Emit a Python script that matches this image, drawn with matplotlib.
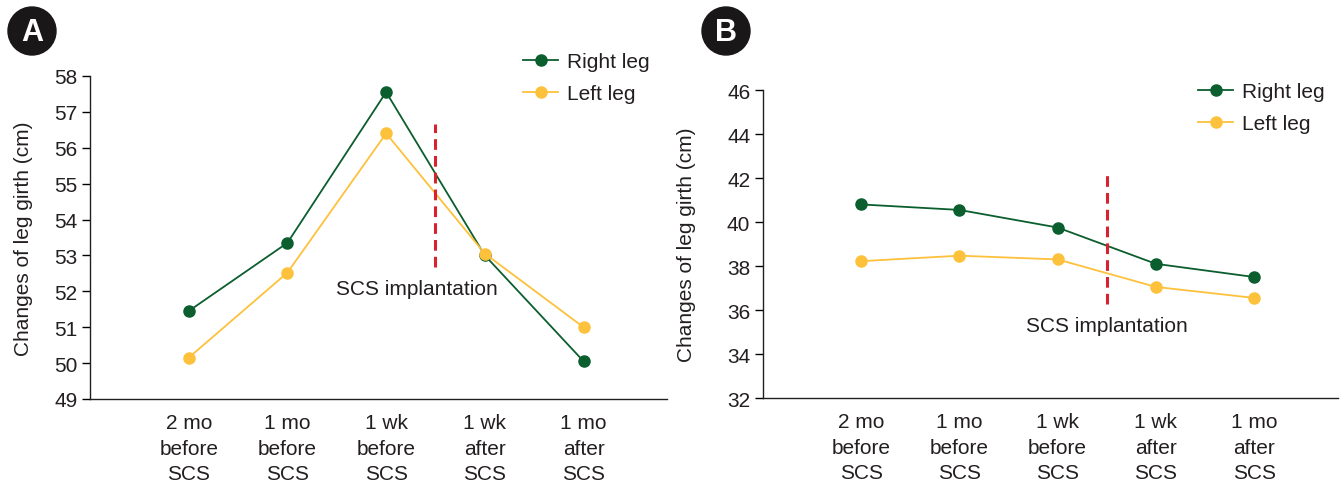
import matplotlib.pyplot as plt
from matplotlib.patches import Ellipse

plt.rcParams['font.family'] = ['Liberation Sans', 'DejaVu Sans']

periods = ['2 mo\nbefore\nSCS', '1 mo\nbefore\nSCS', '1 wk\nbefore\nSCS',
           '1 wk\nafter\nSCS', '1 mo\nafter\nSCS']

right_a = [51.45, 53.35, 57.55, 53.0, 50.05]
left_a = [50.15, 52.52, 56.4, 53.05, 51.0]

right_b = [40.8, 40.55, 39.75, 38.1, 37.5]
left_b = [38.22, 38.47, 38.3, 37.05, 36.55]

green = '#0b5e2e'
yellow = '#fdc13b'
red = '#d8232f'
txt = '#231f20'

W, H = 1343, 485
fig = plt.figure(figsize=(W / 100, H / 100), dpi=100)
axA = fig.add_axes([0.067, 0.1753, 0.430, 0.666])
axB = fig.add_axes([0.568, 0.1773, 0.428, 0.635])


def draw(ax, right, left, ylim, yticks, vline, text_pos, leg_xy, lpad):
    x = range(len(periods))
    ax.plot(x, right, color=green, lw=1.3, marker='o', ms=8, label='Right leg')
    ax.plot(x, left, color=yellow, lw=1.3, marker='o', ms=8, label='Left leg')
    ax.vlines(2.5, vline[0], vline[1], colors=red, linestyles=(0, (3.5, 2)), lw=2.2)
    ax.text(text_pos[0], text_pos[1], 'SCS implantation', ha='center', va='center',
            fontsize=15, color=txt)
    ax.set_ylim(*ylim)
    ax.set_yticks(yticks)
    ax.set_xlim(-1.0, 4.85)
    ax.set_xticks(list(x))
    ax.set_xticklabels(periods, fontsize=15, color=txt, linespacing=1.45)
    ax.tick_params(axis='x', length=0, pad=10)
    ax.tick_params(axis='y', labelsize=15, labelcolor=txt, length=6, width=1, pad=3)
    for s in ['top', 'right']:
        ax.spines[s].set_visible(False)
    for s in ['left', 'bottom']:
        ax.spines[s].set_color(txt)
        ax.spines[s].set_linewidth(1)
    ax.set_ylabel('Changes of leg girth (cm)', fontsize=15, color=txt, labelpad=lpad)
    ax.legend(loc='upper left', bbox_to_anchor=(leg_xy[0] / W, 1 - leg_xy[1] / H),
              bbox_transform=fig.transFigure, frameon=False, fontsize=15,
              handlelength=1.7, handletextpad=0.4, labelspacing=0.62,
              labelcolor=txt, borderaxespad=0, borderpad=0)


draw(axA, right_a, left_a, (49, 58), range(49, 59), (52.68, 56.66), (2.31, 52.07),
     (523, 53), 15)
draw(axB, right_b, left_b, (32, 46), range(32, 47, 2), (36.27, 42.27), (2.5, 35.3),
     (1198, 83), 22)

for lab, cx in [('A', 32), ('B', 726)]:
    circ = Ellipse((cx / W, 1 - 32 / H), 48 / W, 48 / H, transform=fig.transFigure,
                   color='#1a1718', zorder=5)
    fig.patches.append(circ)
    fig.text(cx / W, 1 - 33 / H, lab, ha='center', va='center', fontsize=22,
             fontweight='bold', color='white', zorder=6)

fig.savefig('out.png', dpi=100)
